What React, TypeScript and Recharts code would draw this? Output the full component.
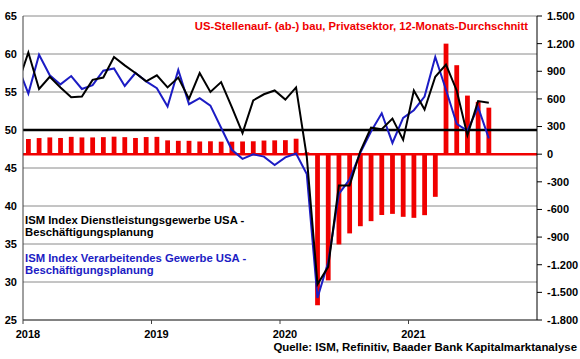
import { ComposedChart, Bar, Line, XAxis, YAxis, CartesianGrid, ReferenceLine } from "recharts"

// Monate Dez 2017 .. Aug 2021 (Dez 2017 liegt links ausserhalb, die Linie startet am Rand)
const months: string[] = []
for (let i = 0; i < 45; i++) {
  const y = 2017 + Math.floor((11 + i) / 12)
  const mo = ((11 + i) % 12) + 1
  months.push(`${y}-${String(mo).padStart(2, "0")}`)
}

// ISM Dienstleistungen, Beschäftigung
const servicesEmployment = [
  56.0,
  60.2, 55.4, 57.0, 55.6, 54.3, 54.4, 56.6, 56.9, 59.6, 58.5, 57.5, 56.4,
  57.2, 55.6, 56.9, 54.1, 57.5, 55.0, 56.3, 53.0, 49.6, 53.9, 54.7, 55.2,
  54.0, 55.6, 46.5, 29.7, 32.0, 42.7, 42.7, 47.2, 50.3, 50.1, 51.5, 48.7,
  55.2, 52.7, 57.0, 58.6, 55.2, 49.3, 53.8, 53.6,
]

// ISM Verarbeitendes Gewerbe, Beschäftigung
const manufacturingEmployment = [
  58.4,
  54.8, 59.9, 57.2, 56.0, 57.1, 55.4, 55.9, 57.8, 58.1, 55.8, 57.5, 56.4,
  55.5, 53.1, 57.9, 53.4, 54.2, 53.2, 50.3, 47.4, 46.2, 46.8, 46.5, 45.4,
  46.4, 46.9, 44.2, 27.9, 32.6, 41.6, 43.5, 47.0, 49.8, 52.2, 48.3, 51.6,
  52.6, 54.4, 59.6, 55.3, 50.8, 49.9, 53.0, 48.9,
]

// US-Stellenauf-(ab-)bau Privatsektor, 12-Monats-Durchschnitt, Tsd.
const jobGains: (number | null)[] = [
  null,
  165, 175, 182, 176, 188, 182, 182, 185, 190, 185, 176, 186,
  188, 150, 145, 145, 138, 140, 136, 136, 138, 140, 148, 150,
  152, 168, 20, -1640, -1370, -980, -860, -782, -727, -660, -648, -680,
  -691, -662, -463, 1200, 966, 636, 568, 505,
]

const yearTicks = [0.5, 12.5, 24.5, 36.5]
const yearLabels = ["2018", "2019", "2020", "2021"]
const leftTicks = [25, 30, 35, 40, 45, 50, 55, 60, 65]
const rightTicks = [-1800, -1500, -1200, -900, -600, -300, 0, 300, 600, 900, 1200, 1500]

const data = months.map((label, i) => ({
  m: i,
  label,
  services: servicesEmployment[i],
  manufacturing: manufacturingEmployment[i],
  jobs: jobGains[i],
}))

const FONT = "'Liberation Sans', Arial, sans-serif"
const RED = "#f00000"
const BLUE = "#1c1cc4"

const fmtDe = (v: number) => {
  const s = Math.abs(v).toString().replace(/\B(?=(\d{3})+(?!\d))/g, ".")
  return v < 0 ? `-${s}` : s
}

const YearTick = ({ x, y, payload }: any) => {
  const idx = yearTicks.indexOf(payload.value)
  return (
    <text x={x + 5} y={y} dy={11.5} textAnchor="middle" fontFamily={FONT} fontSize={11} fontWeight="bold" fill="#000">
      {yearLabels[idx]}
    </text>
  )
}

export default function App() {
  return (
    <div style={{ position: "absolute", left: 0, top: 0, width: 580, height: 359, background: "#fff" }}>
      <ComposedChart
        width={580}
        height={359}
        data={data}
        margin={{ top: 16, right: 0, left: 0, bottom: 9 }}
      >
        <CartesianGrid yAxisId="left" vertical={false} stroke="#8a8a8a" strokeWidth={1} />
        <XAxis
          dataKey="m"
          type="number"
          domain={[0.5, 48.5]}
          allowDataOverflow
          ticks={yearTicks}
          tick={<YearTick />}
          height={30}
          axisLine={{ stroke: "#404040" }}
          tickLine={{ stroke: "#404040" }}
          tickSize={4}
          tickMargin={2}
        />
        <YAxis
          yAxisId="left"
          domain={[25, 65]}
          ticks={leftTicks}
          width={23}
          axisLine={{ stroke: "#404040" }}
          tickLine={false}
          tickSize={4}
          tickMargin={2}
          tick={{ fontSize: 11, fontWeight: "bold", fill: "#000", fontFamily: FONT }}
        />
        <YAxis
          yAxisId="right"
          orientation="right"
          domain={[-1800, 1500]}
          ticks={rightTicks}
          width={43}
          axisLine={{ stroke: "#000" }}
          tickLine={{ stroke: "#000" }}
          tickSize={5}
          tickMargin={5}
          tickFormatter={fmtDe}
          tick={{ fontSize: 11, fontWeight: "bold", fill: "#000", fontFamily: FONT, textAnchor: "start" }}
        />
        <Bar yAxisId="right" dataKey="jobs" fill={RED} barSize={4.8} isAnimationActive={false} />
        <ReferenceLine yAxisId="right" y={0} stroke={RED} strokeWidth={2.5} />
        <ReferenceLine yAxisId="left" y={50} stroke="#000" strokeWidth={2.5} />
        <Line
          yAxisId="left"
          dataKey="manufacturing"
          stroke={BLUE}
          strokeWidth={2}
          dot={false}
          type="linear"
          isAnimationActive={false}
        />
        <Line
          yAxisId="left"
          dataKey="services"
          stroke="#000"
          strokeWidth={2}
          dot={false}
          type="linear"
          isAnimationActive={false}
        />
      </ComposedChart>

      <svg
        width={580}
        height={359}
        style={{ position: "absolute", left: 0, top: 0, pointerEvents: "none" }}
        fontFamily={FONT}
        fontWeight="bold"
      >
        <text x={528} y={30} textAnchor="end" fontSize={11.25} fill={RED}>
          US-Stellenauf- (ab-) bau, Privatsektor, 12-Monats-Durchschnitt
        </text>
        <text x={25} y={223.5} fontSize={11.3} fill="#000">ISM Index Dienstleistungsgewerbe USA -</text>
        <text x={25} y={235.5} fontSize={11.3} fill="#000">Beschäftigungsplanung</text>
        <text x={25} y={261.5} fontSize={11.3} fill={BLUE}>ISM Index Verarbeitendes Gewerbe USA -</text>
        <text x={25} y={274} fontSize={11.3} fill={BLUE}>Beschäftigungsplanung</text>
        <text x={577} y={350.5} textAnchor="end" fontSize={11.45} fill="#000">
          Quelle: ISM, Refinitiv, Baader Bank Kapitalmarktanalyse
        </text>
      </svg>
    </div>
  )
}
